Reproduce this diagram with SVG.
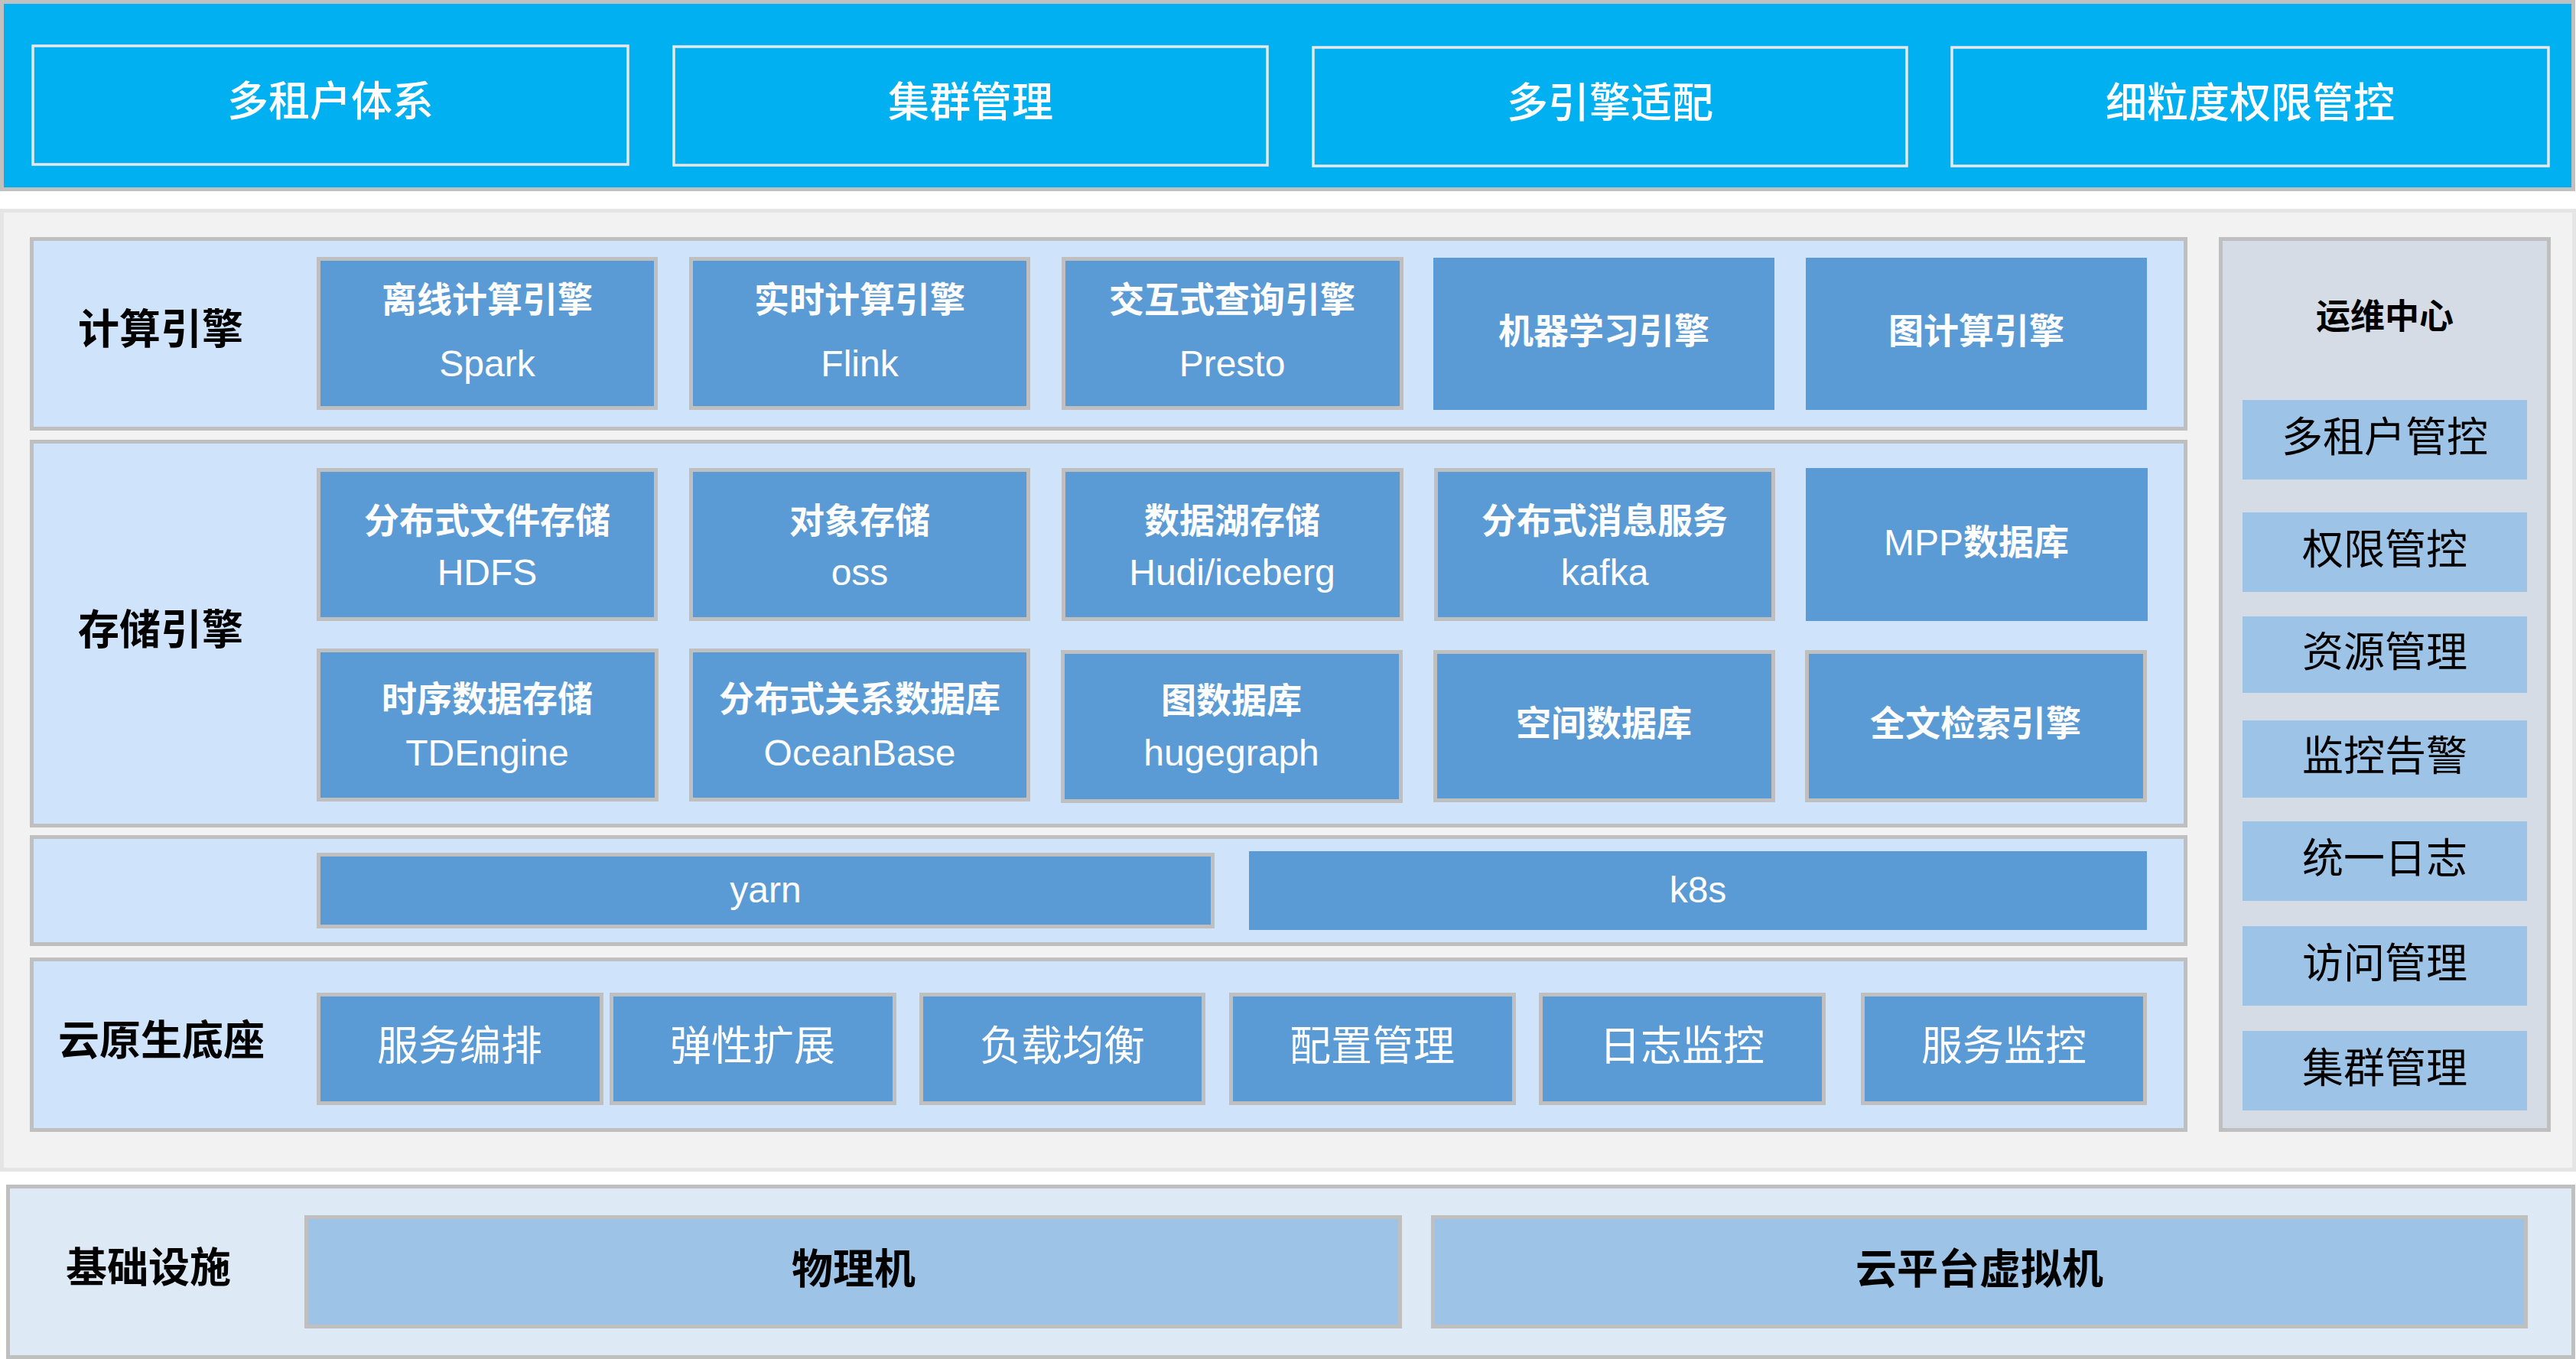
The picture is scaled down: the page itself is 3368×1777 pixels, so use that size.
<svg xmlns="http://www.w3.org/2000/svg" width="3368" height="1777" viewBox="0 0 3368 1777">
<style>
text{font-family:"Liberation Sans","Noto Sans CJK SC",sans-serif;text-anchor:middle}
.top{fill:#00b0f0;stroke:#e8e8e8;stroke-width:3.5}
.tt{fill:#fff;font-size:54px;font-weight:500;dominant-baseline:central}
.row{fill:#cfe3fb;stroke:#bfbfbf;stroke-width:5}
.lbl{fill:#000;font-size:54px;font-weight:bold;dominant-baseline:central}
.it{fill:#5b9bd5;stroke:#bfbfbf;stroke-width:5}
.itn{fill:#5b9bd5}
.cn{fill:#fff;font-size:46px;font-weight:bold;dominant-baseline:central}
.en{fill:#fff;font-size:48px}
.ct{fill:#fff;font-size:54px;dominant-baseline:central}
.op{fill:#9dc3e6}
.ot{fill:#000;font-size:54px;dominant-baseline:central}
.base{fill:#9dc3e6;stroke:#bfbfbf;stroke-width:5}
</style>

<g id="top-banner">
<rect x="2.5" y="2.5" width="3362" height="245" fill="#00b0f0" stroke="#c0c0c0" stroke-width="5"/>
<g id="t1"><rect class="top" x="43" y="60" width="778" height="155"/><text class="tt" x="432" y="133">多租户体系</text></g>
<g id="t2"><rect class="top" x="881" y="61" width="776" height="155"/><text class="tt" x="1269" y="134">集群管理</text></g>
<g id="t3"><rect class="top" x="1717" y="62" width="776" height="155"/><text class="tt" x="2105" y="135">多引擎适配</text></g>
<g id="t4"><rect class="top" x="2552" y="62" width="780" height="155"/><text class="tt" x="2942" y="135">细粒度权限管控</text></g>
</g>

<g id="platform">
<rect x="2.5" y="275.5" width="3363" height="1254" fill="#f2f2f2" stroke="#e5e5e5" stroke-width="5"/>
</g>

<g id="compute">
<rect class="row" x="41.5" y="312.5" width="2816" height="248"/>
<text class="lbl" x="210" y="431">计算引擎</text>
<g id="c1"><rect class="it" x="416.5" y="338.5" width="441" height="195"/><text class="cn" x="637" y="392">离线计算引擎</text><text class="en" x="637" y="492">Spark</text></g>
<g id="c2"><rect class="it" x="903.5" y="338.5" width="441" height="195"/><text class="cn" x="1124" y="392">实时计算引擎</text><text class="en" x="1124" y="492">Flink</text></g>
<g id="c3"><rect class="it" x="1390.5" y="338.5" width="442" height="195"/><text class="cn" x="1611" y="392">交互式查询引擎</text><text class="en" x="1611" y="492">Presto</text></g>
<g id="c4"><rect class="itn" x="1874" y="337" width="446" height="199"/><text class="cn" x="2097" y="433">机器学习引擎</text></g>
<g id="c5"><rect class="itn" x="2361" y="337" width="446" height="199"/><text class="cn" x="2584" y="433">图计算引擎</text></g>
</g>

<g id="storage">
<rect class="row" x="41.5" y="577.5" width="2816" height="502"/>
<text class="lbl" x="210" y="824">存储引擎</text>
<g id="s1"><rect class="it" x="416.5" y="614.5" width="441" height="195"/><text class="cn" x="637" y="681">分布式文件存储</text><text class="en" x="637" y="765">HDFS</text></g>
<g id="s2"><rect class="it" x="903.5" y="614.5" width="441" height="195"/><text class="cn" x="1124" y="681">对象存储</text><text class="en" x="1124" y="765">oss</text></g>
<g id="s3"><rect class="it" x="1390.5" y="614.5" width="442" height="195"/><text class="cn" x="1611" y="681">数据湖存储</text><text class="en" x="1611" y="765">Hudi/iceberg</text></g>
<g id="s4"><rect class="it" x="1877.5" y="614.5" width="441" height="195"/><text class="cn" x="2098" y="681">分布式消息服务</text><text class="en" x="2098" y="765">kafka</text></g>
<g id="s5"><rect class="itn" x="2361" y="612" width="447" height="200"/><text class="cn" x="2584" y="709"><tspan font-weight="normal" font-size="48">MPP</tspan>数据库</text></g>
<g id="s6"><rect class="it" x="416.5" y="850.5" width="442" height="195"/><text class="cn" x="637" y="914">时序数据存储</text><text class="en" x="637" y="1001">TDEngine</text></g>
<g id="s7"><rect class="it" x="903.5" y="850.5" width="441" height="195"/><text class="cn" x="1124" y="914">分布式关系数据库</text><text class="en" x="1124" y="1001">OceanBase</text></g>
<g id="s8"><rect class="it" x="1389.5" y="852.5" width="442" height="195"/><text class="cn" x="1610" y="916">图数据库</text><text class="en" x="1610" y="1001">hugegraph</text></g>
<g id="s9"><rect class="it" x="1876.5" y="852.5" width="442" height="194"/><text class="cn" x="2097" y="946">空间数据库</text></g>
<g id="s10"><rect class="it" x="2362.5" y="852.5" width="442" height="194"/><text class="cn" x="2583" y="946">全文检索引擎</text></g>
</g>

<g id="scheduler">
<rect class="row" x="41.5" y="1094.5" width="2816" height="140"/>
<g id="yarn"><rect class="it" x="416.5" y="1117.5" width="1169" height="94"/><text class="en" x="1001" y="1180">yarn</text></g>
<g id="k8s"><rect class="itn" x="1633" y="1113" width="1174" height="103"/><text class="en" x="2220" y="1180">k8s</text></g>
</g>

<g id="cloud-native">
<rect class="row" x="41.5" y="1254.5" width="2816" height="223"/>
<text class="lbl" x="211" y="1361">云原生底座</text>
<g id="n1"><rect class="it" x="416.5" y="1300.5" width="370" height="142"/><text class="ct" x="601" y="1368">服务编排</text></g>
<g id="n2"><rect class="it" x="799.5" y="1300.5" width="370" height="142"/><text class="ct" x="984" y="1368">弹性扩展</text></g>
<g id="n3"><rect class="it" x="1204.5" y="1300.5" width="369" height="142"/><text class="ct" x="1389" y="1368">负载均衡</text></g>
<g id="n4"><rect class="it" x="1609.5" y="1300.5" width="370" height="142"/><text class="ct" x="1794" y="1368">配置管理</text></g>
<g id="n5"><rect class="it" x="2014.5" y="1300.5" width="370" height="142"/><text class="ct" x="2199" y="1368">日志监控</text></g>
<g id="n6"><rect class="it" x="2435.5" y="1300.5" width="369" height="142"/><text class="ct" x="2620" y="1368">服务监控</text></g>
</g>

<g id="ops-center">
<rect x="2903.5" y="312.5" width="429" height="1165" fill="#d6dce5" stroke="#bfbfbf" stroke-width="5"/>
<text class="lbl" style="font-size:45px" x="3118" y="414">运维中心</text>
<g id="o1"><rect class="op" x="2932" y="523" width="372" height="104"/><text class="ot" x="3118" y="572">多租户管控</text></g>
<g id="o2"><rect class="op" x="2932" y="670" width="372" height="104"/><text class="ot" x="3118" y="719">权限管控</text></g>
<g id="o3"><rect class="op" x="2932" y="806" width="372" height="100"/><text class="ot" x="3118" y="853">资源管理</text></g>
<g id="o4"><rect class="op" x="2932" y="942" width="372" height="101"/><text class="ot" x="3118" y="989">监控告警</text></g>
<g id="o5"><rect class="op" x="2932" y="1074" width="372" height="104"/><text class="ot" x="3118" y="1123">统一日志</text></g>
<g id="o6"><rect class="op" x="2932" y="1211" width="372" height="104"/><text class="ot" x="3118" y="1260">访问管理</text></g>
<g id="o7"><rect class="op" x="2932" y="1348" width="372" height="104"/><text class="ot" x="3118" y="1397">集群管理</text></g>
</g>

<g id="infrastructure">
<rect x="10.5" y="1551.5" width="3354" height="223" fill="#dde9f5" stroke="#bfbfbf" stroke-width="5"/>
<text class="lbl" x="194" y="1658">基础设施</text>
<g id="b1"><rect class="base" x="400.5" y="1591.5" width="1430" height="143"/><text class="lbl" x="1116" y="1660">物理机</text></g>
<g id="b2"><rect class="base" x="1873.5" y="1591.5" width="1429" height="143"/><text class="lbl" x="2588" y="1660">云平台虚拟机</text></g>
</g>

<g id="connectors"/>
</svg>
